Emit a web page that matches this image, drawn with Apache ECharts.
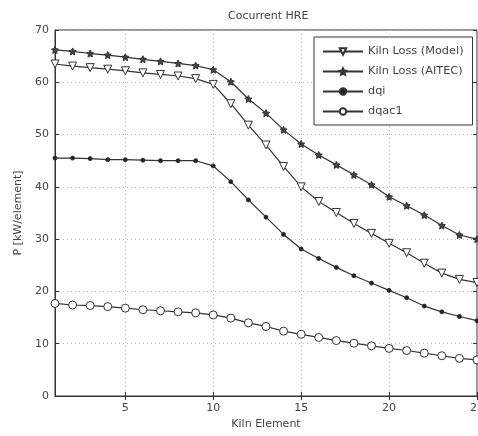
<!DOCTYPE html>
<html>
<head>
<meta charset="utf-8">
<script src="https://cdn.jsdelivr.net/npm/echarts@6/dist/echarts.min.js"></script>
<style>html,body{margin:0;padding:0;background:#fff}#c{width:478px;height:436px}</style>
</head>
<body>
<div id="c"></div>
<script>
const categories = ['1','2','3','4','5','6','7','8','9','10','11','12','13','14','15','16','17','18','19','20','21','22','23','24','25'];
const yTicks = [0,10,20,30,40,50,60,70];
const kilnModel = [63.5,63.1,62.8,62.5,62.2,61.8,61.5,61.2,60.7,59.6,55.9,51.8,48.0,43.9,40.0,37.2,35.1,33.0,31.1,29.2,27.4,25.4,23.5,22.3,21.7];
const kilnAitec = [66.2,65.9,65.5,65.2,64.8,64.4,64.0,63.6,63.2,62.4,60.1,56.8,54.1,50.9,48.2,46.1,44.2,42.3,40.4,38.1,36.4,34.6,32.6,30.8,30.0];
const dqi = [45.5,45.5,45.4,45.2,45.2,45.1,45.0,45.0,45.0,44.0,41.0,37.5,34.2,30.9,28.1,26.3,24.6,23.0,21.6,20.2,18.8,17.2,16.1,15.2,14.4];
const dqac1 = [17.7,17.4,17.3,17.1,16.8,16.5,16.3,16.1,15.9,15.5,14.9,14.0,13.3,12.4,11.8,11.2,10.6,10.1,9.6,9.1,8.7,8.2,7.7,7.2,6.9];
const names = ['Kiln Loss (Model)','Kiln Loss (AITEC)','dqi','dqac1'];

const lineCol = '#333';
const txt = '#444';
const fnt = 'DejaVu Sans, sans-serif';
const fs = 11;
const starPath = 'path://M0,-10 L2.9,-4 L9.5,-3.1 L4.7,1.5 L5.9,8.1 L0,5 L-5.9,8.1 L-4.7,1.5 L-9.5,-3.1 L-2.9,-4 Z';
const every5 = (i) => (i + 1) % 5 === 0;

function mk(name, data, symbol, size, fill, rot) {
  return {
    name, type: 'line', data, symbol, symbolSize: size, symbolRotate: rot || 0,
    showAllSymbol: true,
    lineStyle: { color: lineCol, width: 1.2 },
    itemStyle: { color: fill, borderColor: lineCol, borderWidth: 1 },
    emphasis: { disabled: true }, animation: false, z: 3
  };
}

const chart = echarts.init(document.getElementById('c'), null, { renderer: 'canvas' });
chart.setOption({
  animation: false,
  backgroundColor: '#fff',
  title: {
    text: 'Cocurrent HRE', left: 223, top: 6,
    textStyle: { fontFamily: fnt, fontSize: fs, fontWeight: 'normal', color: txt }
  },
  grid: { left: 55, right: 1, top: 30, bottom: 40, show: true, borderColor: '#333', borderWidth: 1,
    backgroundColor: 'transparent', containLabel: false, outerBoundsMode: 'none' },
  legend: {
    data: names, orient: 'vertical', left: 314, top: 37, itemWidth: 40, itemHeight: 8, itemGap: 7,
    padding: [8, 9, 7, 8], backgroundColor: '#fff', borderColor: '#333', borderWidth: 1,
    textStyle: { fontFamily: fnt, fontSize: 11.3, color: txt, lineHeight: 13 }, selectedMode: false
  },
  xAxis: [{
    type: 'category', data: categories, boundaryGap: false,
    name: 'Kiln Element', nameLocation: 'middle', nameGap: 23,
    nameTextStyle: { fontFamily: fnt, fontSize: fs, color: txt },
    axisLine: { lineStyle: { color: '#333' } },
    axisTick: { inside: true, length: 4, interval: every5, lineStyle: { color: '#333' } },
    axisLabel: { interval: every5, fontFamily: fnt, fontSize: fs, color: txt, margin: 7 },
    splitLine: { show: true, interval: every5, lineStyle: { color: '#bbb', type: [1, 3] } }
  }, {
    type: 'category', data: categories, boundaryGap: false, position: 'top',
    axisLine: { show: false },
    axisTick: { inside: true, length: 4, interval: every5, lineStyle: { color: '#333' } },
    axisLabel: { show: false }, splitLine: { show: false }
  }],
  yAxis: [{
    type: 'value', min: 0, max: 70, interval: 10,
    name: 'P [kW/element]', nameLocation: 'middle', nameGap: 26,
    nameTextStyle: { fontFamily: fnt, fontSize: fs, color: txt },
    axisLine: { show: true, lineStyle: { color: '#333' } },
    axisTick: { show: true, inside: true, length: 4, lineStyle: { color: '#333' } },
    axisLabel: { fontFamily: fnt, fontSize: fs, color: txt, margin: 6,
      formatter: (v) => yTicks.includes(v) ? String(v) : '' },
    splitLine: { show: true, lineStyle: { color: '#bbb', type: [1, 3] } }
  }, {
    type: 'value', min: 0, max: 70, interval: 10, position: 'right',
    axisLine: { show: false },
    axisTick: { show: true, inside: true, length: 4, lineStyle: { color: '#333' } },
    axisLabel: { show: false }, splitLine: { show: false }
  }],
  series: [
    mk(names[0], kilnModel, 'triangle', 8, '#fff', 180),
    mk(names[1], kilnAitec, starPath, 7, '#444'),
    mk(names[2], dqi, 'circle', 4, '#222'),
    mk(names[3], dqac1, 'circle', 8, '#fff')
  ]
});
</script>
</body>
</html>
